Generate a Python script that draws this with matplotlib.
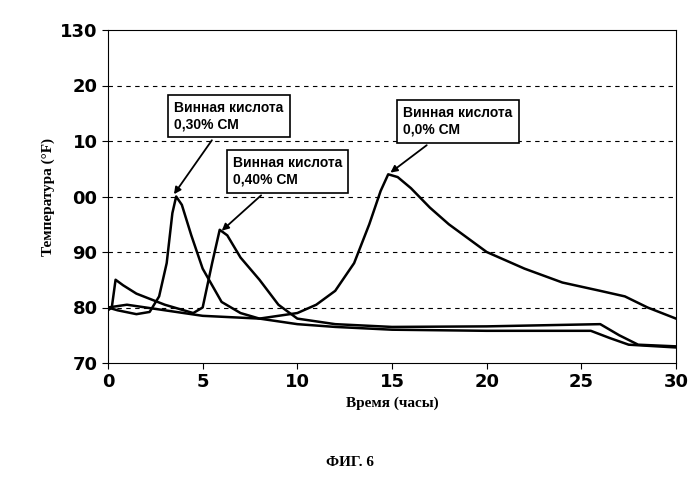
import matplotlib
matplotlib.use("Agg")
import matplotlib.pyplot as plt

t30 = [0, 0.5, 1.5, 2.2, 2.7, 3.1, 3.4, 3.6, 3.9, 4.4, 5, 6, 7, 8, 10, 12, 15, 20, 25.5, 26.5, 27.5, 30]
v30 = [80, 79.5, 78.8, 79.2, 82, 88, 97, 100, 98.5, 93, 87, 81, 79, 78, 77, 76.5, 76, 75.8, 75.8, 74.5, 73.3, 72.8]
t40 = [0, 0.2, 0.4, 0.8, 1.5, 3, 4.5, 5, 5.5, 5.9, 6.3, 7, 8, 9, 10, 12, 15, 20, 26, 27, 28, 30]
v40 = [79.5, 80, 85, 84, 82.5, 80.5, 79, 80, 88, 94, 93, 89, 85, 80.5, 78, 77, 76.5, 76.6, 77, 75, 73.3, 73]
t00 = [0, 1, 2, 3, 5, 8, 10, 11, 12, 13, 13.8, 14.4, 14.8, 15.3, 16, 17, 18, 20, 22, 24, 26, 27.3, 28.5, 30]
v00 = [80, 80.5, 80, 79.5, 78.5, 78, 79, 80.5, 83, 88, 95, 101, 104, 103.5, 101.5, 98, 95, 90, 87, 84.5, 83, 82, 80, 78]
yticks = [70, 80, 90, 100, 110, 120, 130]
ylabels = ["70", "80", "90", "00", "10", "20", "130"]
xticks = [0, 5, 10, 15, 20, 25, 30]

fig = plt.figure(figsize=(6.99, 4.82), dpi=100)
ax = fig.add_axes([108/699, 1-363/482, 568/699, 333/482])
for t, v in [(t30, v30), (t40, v40), (t00, v00)]:
    ax.plot(t, v, color="black", lw=1.8)
ax.set_xlim(0, 30); ax.set_ylim(70, 130)
ax.set_xticks(xticks); ax.set_yticks(yticks); ax.set_yticklabels(ylabels)
for y in yticks[1:-1]:
    ax.axhline(y, color="black", ls=(0, (4, 4)), lw=0.8)
ax.tick_params(labelsize=13, length=4)
for lab in ax.get_xticklabels() + ax.get_yticklabels():
    lab.set_fontweight("bold")
ax.set_xlabel("Время (часы)", fontsize=11, fontweight="bold", family="Liberation Serif")
ax.set_ylabel("Температура (°F)", fontsize=11, fontweight="bold", family="Liberation Serif")
box = dict(boxstyle="square,pad=0.45", fc="white", ec="black", lw=1.2)
ap = dict(arrowstyle="-|>", color="black", lw=1.3)
kw = dict(fontsize=10, fontweight="bold", family="Liberation Sans", bbox=box, ha="left", va="center")
ax.annotate("Винная кислота\n0,30% СМ", xy=(3.4, 100), xytext=(3.5, 114.5), arrowprops=ap, **kw)
ax.annotate("Винная кислота\n0,40% СМ", xy=(5.9, 93.5), xytext=(6.6, 104.5), arrowprops=ap, **kw)
ax.annotate("Винная кислота\n0,0% СМ", xy=(14.8, 104), xytext=(15.6, 113.5), arrowprops=ap, **kw)
fig.text(0.5, 1-462/482, "ФИГ. 6", ha="center", va="center", fontsize=11, fontweight="bold", family="Liberation Serif")
fig.savefig("out.png", dpi=100)
